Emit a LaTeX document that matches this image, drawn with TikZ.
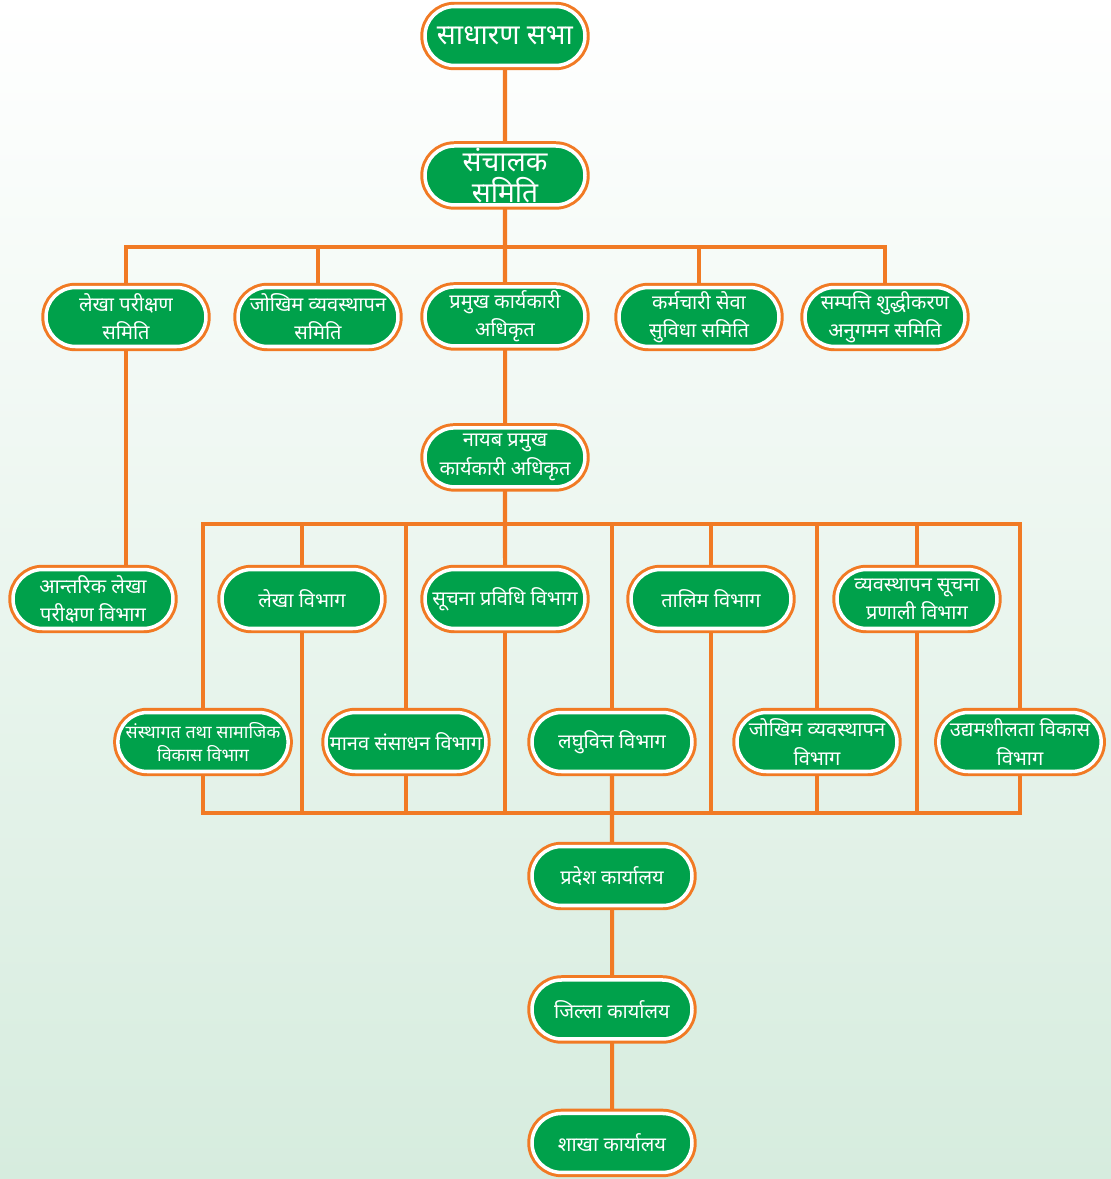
\documentclass[tikz,border=0pt]{standalone}
\usepackage{fontspec}
\newfontfamily\devfont[Script=Devanagari]{Noto Sans}
\usepackage{xcolor}
\usepackage{tikz}
\usetikzlibrary{shapes.misc, positioning, backgrounds}
\definecolor{orgGreen}{RGB}{0,161,75}
\definecolor{orgOrange}{RGB}{241,122,36}
\definecolor{bgGreen}{RGB}{214,236,222}
\tikzset{
    orgbox/.style={rounded rectangle, minimum width=3.2cm, minimum height=1.18cm,
        inner sep=0pt, outer sep=0pt, align=center, fill=orgGreen, draw=white, line width=2pt,
        preaction={draw=orgOrange, line width=5.4pt}, text=white,
        font=\devfont\fontsize{11.4}{16}\selectfont},
    bigbox/.style={orgbox, font=\devfont\fontsize{16}{17.5}\selectfont},
    smallbox/.style={orgbox, font=\devfont\fontsize{10.2}{13.5}\selectfont},
    orglink/.style={draw=orgOrange, line width=2.3pt},
}
\begin{document}
\begin{tikzpicture}[x=0.02cm, y=-0.02cm, node distance=1.49cm]
    \begin{scope}[on background layer]
        \shade[top color=white, bottom color=bgGreen] (0,0) rectangle (1111,1179);
    \end{scope}
    \useasboundingbox (0,0) rectangle (1111,1179);

    % Top of the chart
    \node[bigbox] (sabha) at (505,36) {साधारण सभा};
    \node[bigbox, below=1.61cm of sabha] (sanchalak) {संचालक\\समिति};

    % Committees
    \node[orgbox] (lekhaSamiti) at (126,317) {लेखा परीक्षण\\समिति};
    \node[orgbox] (jokhimSamiti) at (318,317) {जोखिम व्यवस्थापन\\समिति};
    \node[orgbox, below=1.64cm of sanchalak] (pramukh) {प्रमुख कार्यकारी\\अधिकृत};
    \node[orgbox] (karmachari) at (699,317) {कर्मचारी सेवा\\सुविधा समिति};
    \node[orgbox] (sampatti) at (885,317) {सम्पत्ति शुद्धीकरण\\अनुगमन समिति};

    \node[orgbox, below=1.64cm of pramukh] (naib) {नायब प्रमुख\\कार्यकारी अधिकृत};

    % Departments, upper row
    \node[orgbox] (antarik) at (93,599) {आन्तरिक लेखा\\परीक्षण विभाग};
    \node[orgbox] (lekhaVibhag) at (302,599) {लेखा विभाग};
    \node[orgbox] (suchana) at (505,599) {सूचना प्रविधि विभाग};
    \node[orgbox] (talim) at (711,599) {तालिम विभाग};
    \node[orgbox] (prabandhan) at (917,599) {व्यवस्थापन सूचना\\प्रणाली विभाग};

    % Departments, lower row
    \node[smallbox] (sanstha) at (203,742) {संस्थागत तथा सामाजिक\\विकास विभाग};
    \node[orgbox] (manab) at (406,742) {मानव संसाधन विभाग};
    \node[orgbox] (laghu) at (612,742) {लघुवित्त विभाग};
    \node[orgbox] (jokhimVibhag) at (817,742) {जोखिम व्यवस्थापन\\विभाग};
    \node[orgbox] (udhyam) at (1020,742) {उद्यमशीलता विकास\\विभाग};

    % Offices
    \node[orgbox] (pradesh) at (612,876) {प्रदेश कार्यालय};
    \node[orgbox, below=of pradesh] (jilla) {जिल्ला कार्यालय};
    \node[orgbox, below=of jilla] (shakha) {शाखा कार्यालय};

    % Connectors behind the boxes
    \begin{scope}[on background layer]
        \coordinate (busTop) at (505,247);
        \coordinate (busMid) at (505,524);
        \coordinate (busLow) at (612,813);

        \draw[orglink] (sabha) -- (sanchalak);
        \draw[orglink] (sanchalak) -- (busTop);
        \foreach \n in {lekhaSamiti, jokhimSamiti, karmachari, sampatti}
            \draw[orglink] (\n.north) |- (busTop);
        \draw[orglink] (busTop) -- (pramukh);
        \draw[orglink] (pramukh) -- (naib);
        \draw[orglink] (lekhaSamiti.south) -- (lekhaSamiti.south |- antarik.north);

        \draw[orglink] (naib) -- (busMid);
        \foreach \n in {sanstha, lekhaVibhag, manab, laghu, talim, jokhimVibhag, prabandhan, udhyam}
            \draw[orglink] (\n.north) |- (busMid);
        \draw[orglink] (busMid) -- (suchana);

        \foreach \n in {sanstha, lekhaVibhag, manab, suchana, talim, jokhimVibhag, prabandhan, udhyam}
            \draw[orglink] (\n.south) |- (busLow);
        \draw[orglink] (laghu) -- (busLow);
        \draw[orglink] (busLow) -- (pradesh);
        \draw[orglink] (pradesh) -- (jilla);
        \draw[orglink] (jilla) -- (shakha);
    \end{scope}
\end{tikzpicture}
\end{document}
